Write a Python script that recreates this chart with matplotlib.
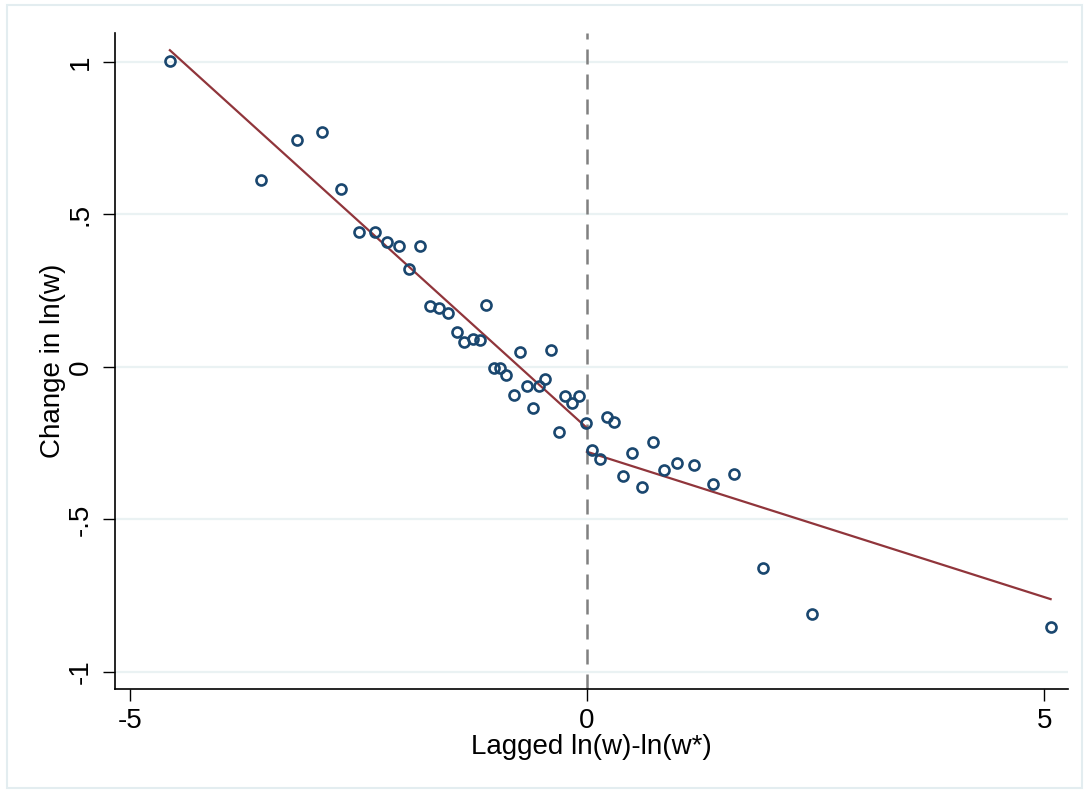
import matplotlib.pyplot as plt
import matplotlib.patches as mpatches
import numpy as np

# binned scatter points: lagged ln(w)-ln(w*) vs change in ln(w)
lag_gap = [-4.56, -3.56, -3.17, -2.90, -2.69, -2.49, -2.32, -2.19, -2.06, -1.82,
           -1.94, -1.72, -1.62, -1.52, -1.42, -1.34, -1.25, -1.17, -1.10, -1.02,
           -0.95, -0.88, -0.80, -0.73, -0.66, -0.59, -0.52, -0.46, -0.39, -0.31,
           -0.24, -0.16, -0.09, -0.01, 0.06, 0.14, 0.22, 0.30, 0.39, 0.49,
           0.60, 0.72, 0.84, 0.99, 1.17, 1.38, 1.61, 1.93, 2.46, 5.07]
dlnw = [1.003, 0.613, 0.744, 0.771, 0.583, 0.442, 0.442, 0.411, 0.397, 0.397,
        0.321, 0.201, 0.193, 0.176, 0.114, 0.082, 0.093, 0.087, 0.203, -0.005,
        -0.005, -0.026, -0.091, 0.048, -0.061, -0.135, -0.061, -0.040, 0.055, -0.213,
        -0.096, -0.118, -0.096, -0.183, -0.272, -0.303, -0.163, -0.180, -0.358, -0.281,
        -0.392, -0.245, -0.339, -0.314, -0.323, -0.385, -0.350, -0.660, -0.810, -0.852]

# separate linear fits on each side of zero: (intercept, slope)
fit_left = (-0.200, -0.2716)
fit_right = (-0.278, -0.0953)

navy = '#1a476f'
maroon = '#90353b'

plt.rcParams['font.family'] = ['Liberation Sans', 'DejaVu Sans']

fig = plt.figure(figsize=(10.88, 7.93), dpi=100)
ax = fig.add_axes([0.1057, 0.1311, 0.8759, 0.8273])

# outer graph region border
fig.patches.append(mpatches.Rectangle((0.0065, 0.006), 0.988, 0.988, transform=fig.transFigure,
                                      fill=False, edgecolor='#e3edf0', linewidth=1.5))

ax.set_xlim(-5.16, 5.26)
ax.set_ylim(-1.056, 1.095)

for yv in [-1, -0.5, 0, 0.5, 1]:
    ax.axhline(yv, color='#eaf2f3', linewidth=1.6, zorder=0)

ax.axvline(0, color='#808080', linewidth=1.8, linestyle=(0, (6, 4)), zorder=1)

ax.plot(lag_gap, dlnw, 'o', markerfacecolor='none', markeredgecolor=navy,
        markersize=7.2, markeredgewidth=1.9, zorder=3)

left_x = np.array([min(lag_gap), 0])
right_x = np.array([0, max(lag_gap)])
ax.plot(left_x, fit_left[0] + fit_left[1] * left_x, color=maroon, linewidth=1.6, zorder=2)
ax.plot(right_x, fit_right[0] + fit_right[1] * right_x, color=maroon, linewidth=1.6, zorder=2)

ax.spines['top'].set_visible(False)
ax.spines['right'].set_visible(False)
ax.spines['left'].set_linewidth(1.2)
ax.spines['bottom'].set_linewidth(1.2)

ax.set_xticks([-5, 0, 5])
ax.set_xticklabels(['-5', '0', '5'])
ax.set_yticks([-1, -0.5, 0, 0.5, 1])
ax.set_yticklabels(['-1', '-.5', '0', '.5', '1'], rotation=90, va='center')
ax.tick_params(axis='both', direction='out', length=8.5, width=1, labelsize=20)
ax.tick_params(axis='y', pad=7)
ax.tick_params(axis='x', pad=5)

ax.set_xlabel('Lagged ln(w)-ln(w*)', fontsize=20, labelpad=0)
ax.set_ylabel('Change in ln(w)', fontsize=20, labelpad=1)

fig.savefig('out.png', dpi=100)
